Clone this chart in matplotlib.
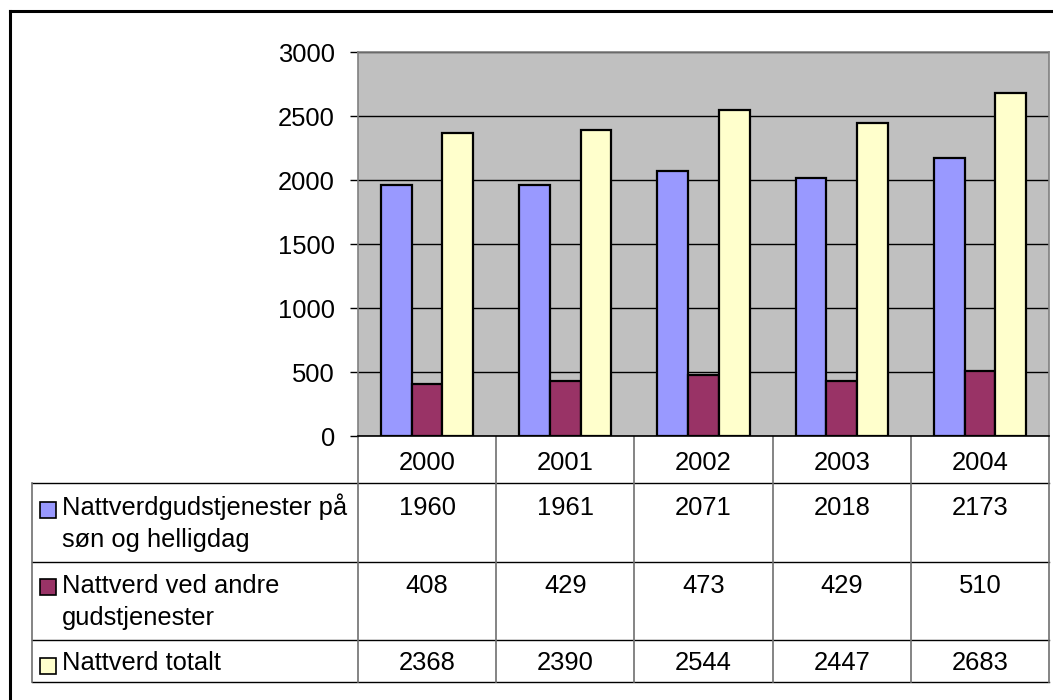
import numpy as np
import matplotlib.pyplot as plt
from matplotlib.patches import Rectangle

plt.rcParams["font.family"] = ["Liberation Sans", "DejaVu Sans"]

years = ["2000", "2001", "2002", "2003", "2004"]
series_names = [
    "Nattverdgudstjenester på\nsøn og helligdag",
    "Nattverd ved andre\ngudstjenester",
    "Nattverd totalt",
]
son_helligdag = [1960, 1961, 2071, 2018, 2173]
andre = [408, 429, 473, 429, 510]
totalt = [2368, 2390, 2544, 2447, 2683]
series = [son_helligdag, andre, totalt]
colors = ["#9999FF", "#993366", "#FFFFCC"]
yticks = [0, 500, 1000, 1500, 2000, 2500, 3000]

W, H = 1053, 700
FS = 18.4
fig = plt.figure(figsize=(W / 100, H / 100), dpi=100)

# plot area in pixel terms
x0, x1, ytop, ybot = 358, 1049, 52, 436
ax = fig.add_axes([x0 / W, 1 - ybot / H, (x1 - x0) / W, (ybot - ytop) / H])
ax.set_facecolor("#C0C0C0")
ax.set_xlim(-0.5, len(years) - 0.5)
ax.set_ylim(0, 3000)

bw = 1 / 4.5
x = np.arange(len(years))
for i, (vals, c) in enumerate(zip(series, colors)):
    ax.bar(x + (i - 1) * bw, vals, width=bw, color=c, edgecolor="black",
           linewidth=1.6, zorder=3)

ax.set_yticks(yticks)
ax.set_yticklabels([str(t) for t in yticks], fontsize=FS)
ax.tick_params(axis="y", length=6, width=1, pad=10.5, color="black")
ax.set_xticks([])
ax.yaxis.grid(True, color="black", linewidth=1)
ax.set_axisbelow(True)
for s in ["top", "right", "left"]:
    ax.spines[s].set_color("#808080")
    ax.spines[s].set_linewidth(1.2)
ax.spines["bottom"].set_color("black")
ax.spines["bottom"].set_linewidth(1.2)

# overlay in pixel coordinates for the data table and frame
ov = fig.add_axes([0, 0, 1, 1], zorder=-1)
ov.set_xlim(0, W)
ov.set_ylim(H, 0)
ov.axis("off")

# outer chart frame
ov.plot([10, W + 5], [11, 11], color="black", linewidth=2.2)
ov.plot([10, 10], [11, H + 5], color="black", linewidth=2.2)

tab_left = 32
col_w = (x1 - x0) / len(years)
row_lines = [483, 562, 640, 682]
vgray = "#707070"

# horizontal lines
for y in row_lines:
    ov.plot([tab_left, x1], [y, y], color="black", linewidth=1)
# vertical lines
for k in range(len(years) + 1):
    xx = x0 + k * col_w
    ov.plot([xx, xx], [ybot, row_lines[-1]], color=vgray, linewidth=1.2)
ov.plot([tab_left, tab_left], [row_lines[0], row_lines[-1]], color=vgray,
        linewidth=1.2)

# header with years
for k, yr in enumerate(years):
    ov.text(x0 + (k + 0.5) * col_w, 470, yr, ha="center", va="baseline",
            fontsize=FS)

# rows
baselines = [515, 593, 670]
squares = [502, 579, 658]
for r, (name, vals, c) in enumerate(zip(series_names, series, colors)):
    ov.add_patch(Rectangle((40, squares[r]), 16, 16, facecolor=c,
                           edgecolor="black", linewidth=1.2))
    for j, line in enumerate(name.split("\n")):
        ov.text(62, baselines[r] + j * 32, line, ha="left", va="baseline",
                fontsize=FS)
    for k, v in enumerate(vals):
        ov.text(x0 + (k + 0.5) * col_w, baselines[r], str(v), ha="center",
                va="baseline", fontsize=FS)

fig.savefig("out.png", dpi=100, facecolor="white")
